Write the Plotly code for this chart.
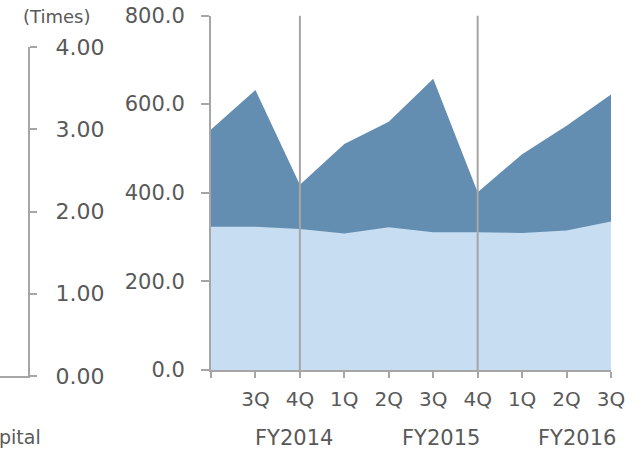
import plotly.graph_objects as go

# ---- data ----
quarter_labels = ["", "3Q", "4Q", "1Q", "2Q", "3Q", "4Q", "1Q", "2Q", "3Q"]
fy_labels = ["FY2014", "FY2015", "FY2016"]
total_values = [543, 632, 418, 510, 560, 657, 401, 487, 551, 622]
lower_values = [323, 323, 318, 308, 322, 311, 311, 309, 315, 335]
times_ticks = [0, 1, 2, 3, 4]
main_ticks = [0, 200, 400, 600, 800]

W, H = 641, 449
GRAY = "#A6A6A6"
TXT = "#595959"
FONT = "DejaVu Sans"

def px_x(p):
    return p / W

def px_y(p):
    return (H - p) / H

xs = list(range(len(quarter_labels)))

fig = go.Figure()
fig.add_trace(go.Scatter(x=xs, y=total_values, mode="lines", fill="tozeroy",
                         line=dict(width=0, color="#638EB1"), fillcolor="#638EB1",
                         showlegend=False, hoverinfo="skip"))
fig.add_trace(go.Scatter(x=xs, y=lower_values, mode="lines", fill="tozeroy",
                         line=dict(width=0, color="#C7DDF2"), fillcolor="#C7DDF2",
                         showlegend=False, hoverinfo="skip"))
fig.add_trace(go.Scatter(x=[], y=[], xaxis="x2", yaxis="y2", showlegend=False))

# separators at 4Q positions
for i, lab in enumerate(quarter_labels):
    if lab == "4Q":
        fig.add_shape(type="line", xref="x", yref="y", x0=i, x1=i, y0=0, y1=800,
                      line=dict(color=GRAY, width=2))

fig.update_layout(
    template="none",
    width=W, height=H,
    margin=dict(l=0, r=0, t=0, b=0, autoexpand=False),
    paper_bgcolor="white", plot_bgcolor="white",
    font=dict(family=FONT, size=18, color=TXT),
    xaxis=dict(domain=[px_x(211), px_x(611)], range=[0, 9], tickmode="array",
               tickvals=xs, ticktext=quarter_labels, showgrid=False, zeroline=False,
               showline=True, linecolor=GRAY, linewidth=2, ticks="outside",
               ticklen=6, tickwidth=2, tickcolor=GRAY, anchor="y", automargin=False,
               ticklabelstandoff=4,
               tickfont=dict(size=20, color=TXT, family=FONT)),
    yaxis=dict(domain=[px_y(370), px_y(15.5)], range=[0, 800], tickmode="array",
               tickvals=main_ticks, ticktext=[f"{v:.1f}" for v in main_ticks],
               showgrid=False, zeroline=False, showline=True, linecolor=GRAY,
               linewidth=2, ticks="outside", ticklen=8, tickwidth=2, tickcolor=GRAY,
               ticklabelstandoff=12, anchor="x", automargin=False,
               tickfont=dict(size=21, color=TXT, family=FONT)),
    xaxis2=dict(domain=[0, px_x(28)], range=[0, 1], showticklabels=False,
                showgrid=False, zeroline=False, showline=True, linecolor=GRAY,
                linewidth=2, ticks="", anchor="y2", automargin=False),
    yaxis2=dict(domain=[px_y(376), px_y(47)], range=[0, 4], side="right",
                tickmode="array", tickvals=times_ticks,
                ticktext=[f"{v:.2f}" for v in times_ticks],
                showgrid=False, zeroline=False, showline=True, linecolor=GRAY,
                linewidth=2, ticks="outside", ticklen=7, tickwidth=2, tickcolor=GRAY,
                ticklabelstandoff=14, anchor="x2", automargin=False,
                tickfont=dict(size=22, color=TXT, family=FONT)),
)

fy_px = [294, 441, 577]
for lab, p in zip(fy_labels, fy_px):
    fig.add_annotation(x=px_x(p), y=px_y(438), xref="paper", yref="paper",
                       text=lab, showarrow=False, xanchor="center", yanchor="middle",
                       font=dict(size=21, color=TXT, family=FONT))

fig.add_annotation(x=px_x(56), y=px_y(16), xref="paper", yref="paper",
                   text="(Times)", showarrow=False, xanchor="center", yanchor="middle",
                   font=dict(size=18, color=TXT, family=FONT))
fig.add_annotation(x=0, y=px_y(437), xref="paper", yref="paper",
                   text="pital", showarrow=False, xanchor="left", yanchor="middle",
                   xshift=-3, font=dict(size=19, color=TXT, family=FONT))

fig.write_html("out.html")
